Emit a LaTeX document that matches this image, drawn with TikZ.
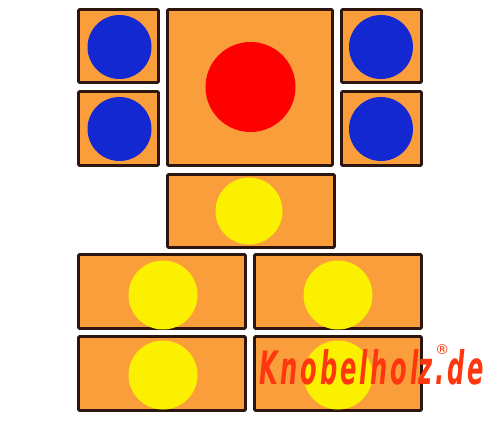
\documentclass[tikz,border=0pt]{standalone}
\usepackage{fontspec}
\newfontfamily\logofont[LetterSpace=12]{DejaVu Sans}
\newfontfamily\regfont{DejaVu Sans}
\definecolor{woodorange}{RGB}{250,158,60}
\definecolor{woodedge}{RGB}{45,22,15}
\definecolor{ballblue}{RGB}{20,40,210}
\definecolor{ballred}{RGB}{255,0,0}
\definecolor{ballyellow}{RGB}{250,240,0}
\definecolor{logored}{RGB}{255,55,15}
\newcommand{\regmark}{\rlap{\smash{\raisebox{28pt}{\hspace{30pt}\scalebox{2}[1]{\regfont\mdseries\upshape\fontsize{13}{13}\selectfont ®}}}}}
\begin{document}
\begin{tikzpicture}[x=1pt,y=-1pt,
  block/.style={draw=woodedge,fill=woodorange,line width=2.6pt,rounded corners=1pt,inner sep=0pt,outer sep=0pt},
  ball/.style={circle,inner sep=0pt,minimum size=#1},
  blueball/.style={ball=64pt,fill=ballblue},
  yellowball/.style={ball=67pt,fill=ballyellow}]
\useasboundingbox[fill=white] (0,0) rectangle (500,422);
% blocks
\node[block,minimum width=80pt,minimum height=73pt] (b1) at (118.5,46) {};
\node[block,minimum width=80pt,minimum height=74pt] (b2) at (118.5,128.5) {};
\node[block,minimum width=165pt,minimum height=156pt] (big) at (250,87.5) {};
\node[block,minimum width=80pt,minimum height=73pt] (b3) at (381.5,46) {};
\node[block,minimum width=80pt,minimum height=74pt] (b4) at (381.5,128.5) {};
\node[block,minimum width=167pt,minimum height=73pt] (mid) at (251,211) {};
\node[block,minimum width=167pt,minimum height=74pt] (l1) at (162,291.5) {};
\node[block,minimum width=167pt,minimum height=74pt] (r1) at (338,291.5) {};
\node[block,minimum width=167pt,minimum height=74pt] (l2) at (162,373.5) {};
\node[block,minimum width=167pt,minimum height=74pt] (r2) at (338,373.5) {};
% balls
\node[blueball] (c1) at (119.5,47) {};
\node[blueball] (c2) at (119.5,129) {};
\node[blueball] (c3) at (381,47) {};
\node[blueball] (c4) at (381,129) {};
\node[ball=90pt,fill=ballred] (cr) at (250.5,87) {};
\node[yellowball] (cm) at (249,211) {};
\node[yellowball,minimum size=69pt] (y1) at (163,295) {};
\node[yellowball,minimum size=69pt] (y2) at (338,295) {};
\node[yellowball,minimum size=69pt] (y3) at (163,375) {};
\node[yellowball,minimum size=69pt] (y4) at (338,375) {};
% logo
\node[anchor=base west,inner sep=0pt,text=logored] (logo) at (259,384)
  {\resizebox{225pt}{35pt}{\logofont\bfseries\itshape\fontsize{44}{44}\selectfont Knobelhol\regmark z.de}};
\end{tikzpicture}
\end{document}
